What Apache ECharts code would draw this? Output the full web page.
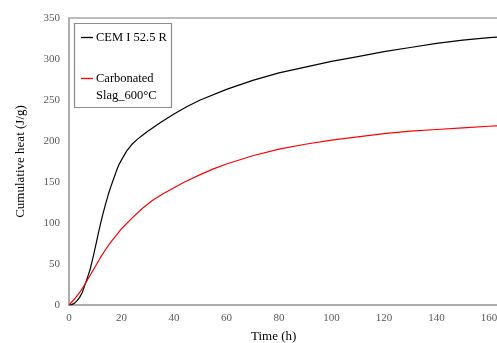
<!DOCTYPE html>
<html>
<head>
<meta charset="utf-8">
<script src="https://cdn.jsdelivr.net/npm/echarts@6/dist/echarts.min.js"></script>
<style>html,body{margin:0;padding:0;background:#fff}#c{width:497px;height:343px}</style>
</head>
<body>
<div id="c"></div>
<script>
const seriesNames = ['CEM I 52.5 R', 'Carbonated'];
const secondLine = 'Slag_600°C';
const xTitle = 'Time (h)';
const yTitle = 'Cumulative heat (J/g)';

const cemTime = [0,1,2,3,4,5,6,7,8,9,10,11,12,13,14,15,16,17,18,19,20,22,24,26,28,30,35,40,45,50,60,70,80,90,100,110,120,130,140,150,160,168];
const cemHeat = [0,0.5,2,5,9,15,24,33,43,56,70,85,99,112,124,135,145,154,163,171,177,188,196,202,207,212,223,233,242,250,263,274,283,290,297,303,309,314,319,323,326,328];

const slagTime = [0,2,4,6,8,10,12,14,16,18,20,24,28,32,36,40,44,50,55,60,70,80,90,100,110,120,130,140,150,160,168];
const slagHeat = [0,7,15,25,36,47,58,68,77,85,93,106,118,128,136,143,150,159,166,172,182,190,196,201,205,209,212,214,216,218,219];

const FONT = 'Liberation Serif';
const chart = echarts.init(document.getElementById('c'));
chart.setOption({
  animation: false,
  backgroundColor: '#fff',
  grid: { left: 69, top: 18, bottom: 38, width: 472.5, containLabel: false, outerBoundsMode: 'none', show: true, borderColor: '#a6a6a6', borderWidth: 1.5 },
  xAxis: {
    type: 'value', min: 0, max: 180, interval: 20,
    axisLine: { show: true, onZero: false, lineStyle: { color: '#a6a6a6', width: 1.5 } },
    axisTick: { show: false }, splitLine: { show: false },
    axisLabel: { color: '#595959', fontFamily: FONT, fontSize: 11, margin: 8 }
  },
  yAxis: {
    type: 'value', min: 0, max: 350, interval: 50,
    axisLine: { show: true, lineStyle: { color: '#a6a6a6', width: 1.5 } },
    axisTick: { show: false }, splitLine: { show: false },
    axisLabel: { color: '#595959', fontFamily: FONT, fontSize: 11, margin: 9 },
    name: yTitle, nameLocation: 'middle', nameGap: 42, nameRotate: 90,
    nameTextStyle: { color: '#000', fontFamily: FONT, fontSize: 13 }
  },
  legend: {
    orient: 'vertical', left: 74, top: 23, padding: [8, 0, 0, 7],
    icon: 'rect', itemWidth: 12, itemHeight: 1.3, itemGap: 28,
    textStyle: { color: '#000', fontFamily: FONT, fontSize: 12.5, padding: [0,0,0,-2] },
    data: seriesNames
  },
  graphic: [
    { type: 'rect', shape: { x: 74.5, y: 23.5, width: 97, height: 84 }, style: { fill: null, stroke: '#8c8c8c', lineWidth: 1.2 }, z: 10 },
    { type: 'text', left: 96, top: 89, style: { text: secondLine, fill: '#000', font: '12.5px "Liberation Serif"' }, z: 10 },
    { type: 'text', left: 251, top: 330, style: { text: xTitle, fill: '#000', font: '13px "Liberation Serif"' }, z: 10 }
  ],
  series: [
    { name: seriesNames[0], type: 'line', symbol: 'none', smooth: false, data: cemTime.map((t,i)=>[t,cemHeat[i]]), lineStyle: { color: '#000', width: 1.2 }, itemStyle: { color: '#000' } },
    { name: seriesNames[1], type: 'line', symbol: 'none', smooth: false, data: slagTime.map((t,i)=>[t,slagHeat[i]]), lineStyle: { color: '#ff0000', width: 1.2 }, itemStyle: { color: '#ff0000' } }
  ]
});
</script>
</body>
</html>
